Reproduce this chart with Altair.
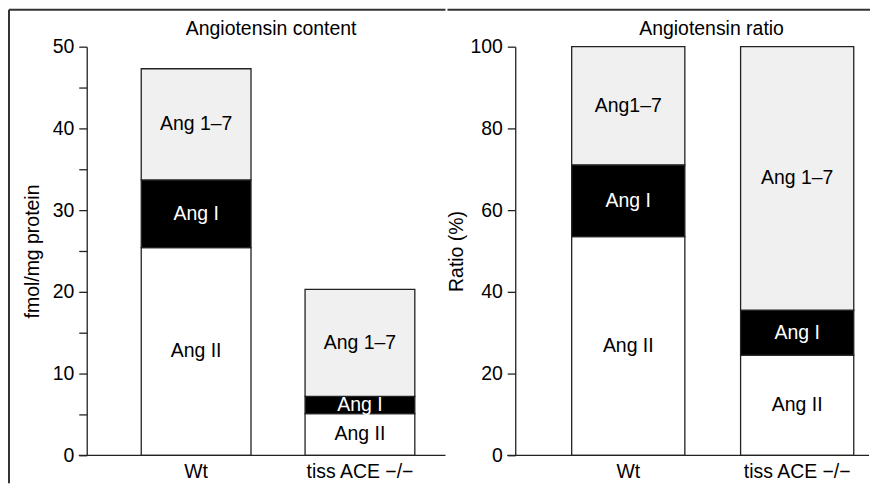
import altair as alt
import pandas as pd

# ---- data ----
groups = ["Wt", "tiss ACE −/−"]
segments = ["Ang II", "Ang I", "Ang 1–7"]

content_ang_ii = [25.4, 5.1]
content_ang_i = [8.3, 2.1]
content_ang_17 = [13.6, 13.1]

ratio_ang_ii = [53.5, 24.5]
ratio_ang_i = [17.6, 11.0]
ratio_ang_17 = [28.9, 64.5]

content_labels = [["Ang II", "Ang I", "Ang 1–7"], ["Ang II", "Ang I", "Ang 1–7"]]
ratio_labels = [["Ang II", "Ang I", "Ang1–7"], ["Ang II", "Ang I", "Ang 1–7"]]

content_ticks = [0, 5, 10, 15, 20, 25, 30, 35, 40, 45, 50]
ratio_ticks = [0, 20, 40, 60, 80, 100]

fills = ["#ffffff", "#000000", "#f0f0f0"]
text_colors = ["#000000", "#ffffff", "#000000"]

FONT = "Liberation Sans"
FS = 19.5
W, H = 360, 410


def build(ii, i, s17, labels):
    rows = []
    for g_idx, g in enumerate(groups):
        vals = [ii[g_idx], i[g_idx], s17[g_idx]]
        base = 0.0
        for s_idx, seg in enumerate(segments):
            v = vals[s_idx]
            rows.append(dict(group=g, segment=seg, y0=base, y1=base + v,
                             mid=base + v / 2, label=labels[g_idx][s_idx],
                             tcolor=text_colors[s_idx]))
            base += v
    return pd.DataFrame(rows)


dummy = pd.DataFrame({"k": [0]})


def panel(df, title, ytitle, ymax, ticks, label_expr, xscale, title_dx,
          ytitle_pad, frame_rules, xline_end):
    xenc = alt.X("group:N", sort=groups, scale=xscale,
                 axis=alt.Axis(title=None, ticks=False, domain=False,
                               labelPadding=7, labelAngle=0))
    yscale = alt.Scale(domain=[0, ymax], nice=False, zero=True)
    bars = alt.Chart(df).mark_bar(stroke="#222222", strokeWidth=1.3).encode(
        x=xenc,
        y=alt.Y("y1:Q", scale=yscale,
                axis=alt.Axis(title=ytitle, values=ticks, labelExpr=label_expr,
                              titlePadding=ytitle_pad)),
        y2="y0:Q",
        color=alt.Color("segment:N", scale=alt.Scale(domain=segments, range=fills),
                        legend=None),
    )
    texts = alt.Chart(df).mark_text(fontSize=FS, font=FONT).encode(
        x=xenc,
        y=alt.Y("mid:Q", scale=yscale),
        text="label:N",
        color=alt.Color("tcolor:N", scale=None),
    )
    xline = alt.Chart(dummy).mark_rule(color="#222222", strokeWidth=1.3).encode(
        x=alt.value(-8), x2=alt.value(xline_end), y=alt.value(H))
    layers = [bars, texts, xline] + frame_rules
    return alt.layer(*layers).properties(
        width=W, height=H,
        title=alt.TitleParams(title, fontSize=FS, fontWeight="normal", font=FONT,
                              color="#000000", dx=title_dx, offset=-46,
                              baseline="alphabetic", anchor="middle"),
    )


frame_color = "#333333"
left_frame = [
    alt.Chart(dummy).mark_rule(color=frame_color, strokeWidth=2).encode(
        x=alt.value(-78), y=alt.value(-37), y2=alt.value(438)),
    alt.Chart(dummy).mark_rule(color=frame_color, strokeWidth=2).encode(
        x=alt.value(-78), x2=alt.value(W), y=alt.value(-37)),
]
right_frame = [
    alt.Chart(dummy).mark_rule(color=frame_color, strokeWidth=2).encode(
        x=alt.value(-68), x2=alt.value(356), y=alt.value(-37)),
]

left = panel(
    build(content_ang_ii, content_ang_i, content_ang_17, content_labels),
    "Angiotensin content", "fmol/mg protein", 50, content_ticks,
    "datum.value % 10 == 0 ? datum.label : ''",
    alt.Scale(paddingInner=0.33, paddingOuter=0.26, align=0.64),
    5, 10, left_frame, W,
)
right = panel(
    build(ratio_ang_ii, ratio_ang_i, ratio_ang_17, ratio_labels),
    "Angiotensin ratio", "Ratio (%)", 100, ratio_ticks,
    "datum.label",
    alt.Scale(paddingInner=0.33, paddingOuter=0.227, align=0.736),
    17, 3, right_frame, 355,
)

chart = alt.hconcat(left, right, spacing=0).properties(
    padding=0
).configure_view(stroke=None).configure_axis(
    labelFont=FONT, titleFont=FONT, labelFontSize=FS, titleFontSize=FS,
    titleFontWeight="normal", labelColor="#000000", titleColor="#000000",
    domainColor="#222222", tickColor="#222222", domainWidth=1.3, tickWidth=1.3,
    tickSize=8, labelPadding=5, grid=False,
).configure_text(font=FONT)

chart.save("out.html", embed_options={"renderer": "svg", "actions": False})
